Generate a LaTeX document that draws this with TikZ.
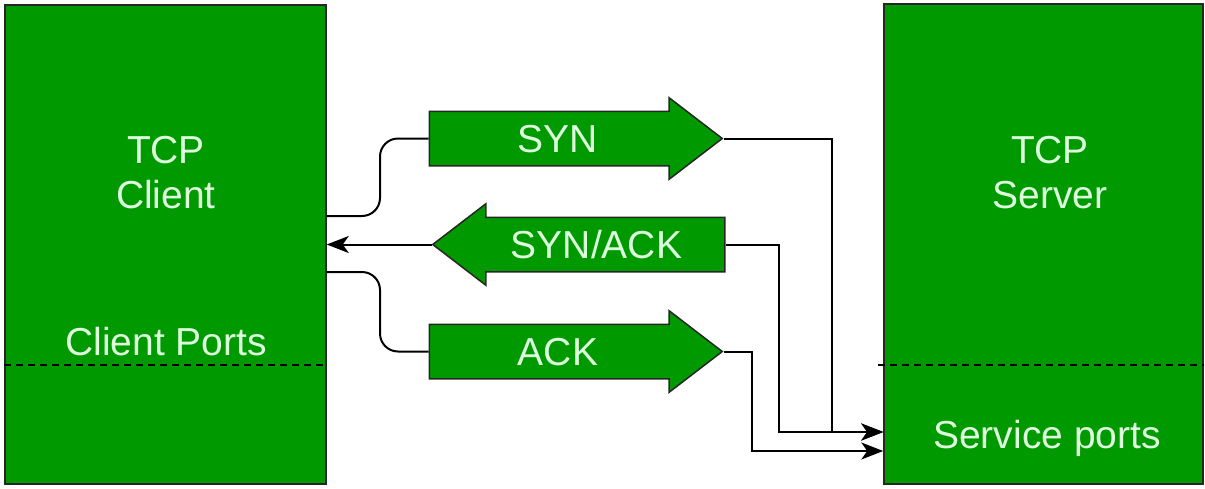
\documentclass[tikz,border=0pt]{standalone}
\usepackage{fontspec}
\setmainfont{Liberation Sans}
\usetikzlibrary{shapes.arrows, arrows.meta}

\definecolor{boxgreen}{HTML}{009900}
\definecolor{txtgreen}{HTML}{DDFFDD}

\begin{document}
\begin{tikzpicture}[
    x=1pt, y=-1pt,
    hostbox/.style={draw=black!85, line width=1.5pt, fill=boxgreen, inner sep=0pt},
    hosttext/.style={text=txtgreen, font=\fontsize{39}{45}\selectfont, align=center, anchor=base},
    portline/.style={dash pattern=on 7pt off 5pt, line width=1.1pt},
    flow/.style={single arrow, draw=black!85, line width=1.5pt, fill=boxgreen,
        text=txtgreen, font=\fontsize{39}{45}\selectfont, text width=256pt, align=center,
        inner xsep=0pt, inner ysep=12.5pt, text height=28pt, text depth=0pt,
        minimum width=80pt, single arrow head extend=13.5pt, single arrow tip angle=75},
    link/.style={line width=2pt},
    tip/.style={-{Stealth[length=22pt, width=17pt, inset=6pt]}}
    ]
    \useasboundingbox (0,0) rectangle (1205,488);

    % hosts
    \node [hostbox, minimum width=321pt, minimum height=479pt] (client) at (165.5,244.5) {};
    \node [hostbox, minimum width=319pt, minimum height=480pt] (server) at (1043.5,244) {};
    \draw [portline] (client.west |- 0,365) -- (client.east |- 0,365);
    \draw [portline] (878,365) -- (server.east |- 0,365);

    \node at (166,208) [hosttext] (clientname) {TCP\\Client};
    \node at (166,355) [hosttext] (clientports) {Client Ports};
    \node at (1050,208) [hosttext] (servername) {TCP\\Server};
    \node at (1047,448) [hosttext] (serviceports) {Service ports};

    % handshake
    \node [flow] (syn) at (558,138.5) {SYN};
    \node [flow, text width=255pt, shape border rotate=180] (synack) at (596.5,244.5) {SYN/ACK};
    \node [flow] (ack) at (558,351.5) {ACK};

    \draw [link, rounded corners=18pt] (client.east |- 0,216) -- (380,216) -- (380,0 |- syn.tail) -- (syn.tail);
    \draw [link, tip] (syn.tip) -- (832,0 |- syn.tip) -- (832,432) -- (server.west |- 0,432);
    \draw [link, tip] (synack.tail) -- (779,0 |- synack.tail) -- (779,432) -- (server.west |- 0,432);
    \draw [link, tip] (synack.tip) -- (client.east |- synack.tip);
    \draw [link, rounded corners=18pt] (client.east |- 0,272) -- (380,272) -- (380,0 |- ack.tail) -- (ack.tail);
    \draw [link, tip] (ack.tip) -- (752,0 |- ack.tip) -- (752,451) -- (server.west |- 0,451);
\end{tikzpicture}
\end{document}
